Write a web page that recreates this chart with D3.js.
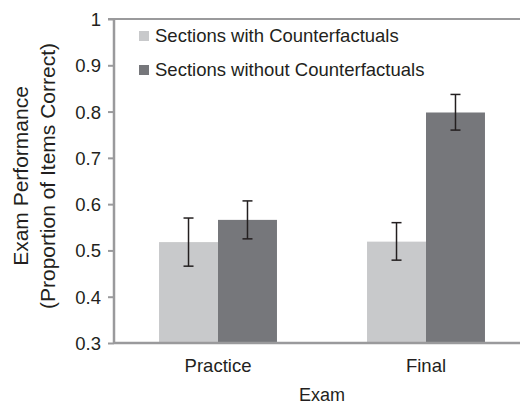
<!DOCTYPE html>
<html><head><meta charset="utf-8">
<script src="https://cdn.jsdelivr.net/npm/d3@7"></script>
<style>
html,body{margin:0;padding:0;background:#fff;}
svg{display:block;font-family:"Liberation Sans",Arial,Helvetica,sans-serif;}
</style></head>
<body><svg id="c" width="520" height="405"></svg>
<script>
const categories = ["Practice", "Final"];
const seriesNames = ["Sections with Counterfactuals", "Sections without Counterfactuals"];
const withCF = [0.518, 0.519];
const withCFLow = [0.466, 0.479];
const withCFHigh = [0.570, 0.560];
const withoutCF = [0.566, 0.798];
const withoutCFLow = [0.525, 0.760];
const withoutCFHigh = [0.607, 0.837];
const yTicks = [0.3, 0.4, 0.5, 0.6, 0.7, 0.8, 0.9, 1];
const colors = ["#c8c9cb", "#76777b"];

(function () {
const svg = d3.select("#c");
const mLeft = 114, mRight = 530, mTop = 19, mBottom = 343;
const textColor = "#231f20", axisColor = "#9a9a9c";

const x0 = d3.scaleBand().domain(categories).range([mLeft, mRight]).paddingInner(0.433).paddingOuter(0.2165);
const x1 = d3.scaleBand().domain(seriesNames).range([0, x0.bandwidth()]);
const y = d3.scaleLinear().domain([0.3, 1]).range([mBottom, mTop]);

const data = [];
categories.forEach((c, i) => {
  data.push({cat: c, s: seriesNames[0], v: withCF[i], lo: withCFLow[i], hi: withCFHigh[i], col: colors[0]});
  data.push({cat: c, s: seriesNames[1], v: withoutCF[i], lo: withoutCFLow[i], hi: withoutCFHigh[i], col: colors[1]});
});

// bars
svg.append("g").selectAll("rect").data(data).join("rect")
  .attr("x", d => x0(d.cat) + x1(d.s))
  .attr("width", x1.bandwidth())
  .attr("y", d => y(d.v))
  .attr("height", d => y(0.3) - y(d.v))
  .attr("fill", d => d.col);

// error bars
const eg = svg.append("g").attr("stroke", "#231f20").attr("stroke-width", 1.5);
data.forEach(d => {
  const cx = x0(d.cat) + x1(d.s) + x1.bandwidth() / 2;
  eg.append("line").attr("x1", cx).attr("x2", cx).attr("y1", y(d.hi)).attr("y2", y(d.lo));
  eg.append("line").attr("x1", cx - 5).attr("x2", cx + 5).attr("y1", y(d.hi)).attr("y2", y(d.hi));
  eg.append("line").attr("x1", cx - 5).attr("x2", cx + 5).attr("y1", y(d.lo)).attr("y2", y(d.lo));
});

// y axis
const yAxis = d3.axisLeft(y).tickValues(yTicks).tickFormat(d => d3.format("")(d)).tickSize(6).tickPadding(7);
const ya = svg.append("g").attr("transform", `translate(${mLeft},0)`).call(yAxis);
ya.select(".domain").remove();
ya.selectAll(".tick line").attr("stroke", axisColor).attr("stroke-width", 2);
ya.selectAll(".tick text").attr("fill", textColor).style("font-size", "18.5px").attr("dy", "0.35em");
svg.append("line").attr("x1", mLeft).attr("x2", mLeft).attr("y1", mTop).attr("y2", mBottom)
  .attr("stroke", axisColor).attr("stroke-width", 2.5);
// top border
svg.append("line").attr("x1", mLeft - 6).attr("x2", 520).attr("y1", mTop).attr("y2", mTop)
  .attr("stroke", axisColor).attr("stroke-width", 2);

// x axis
const xAxis = d3.axisBottom(x0).tickSize(0).tickPadding(16);
const xa = svg.append("g").attr("transform", `translate(0,${mBottom})`).call(xAxis);
xa.select(".domain").remove();
xa.selectAll(".tick text").attr("fill", textColor).style("font-size", "18.5px");
svg.append("line").attr("x1", mLeft).attr("x2", 520).attr("y1", mBottom).attr("y2", mBottom)
  .attr("stroke", axisColor).attr("stroke-width", 2.5);

// axis titles
svg.append("text").attr("x", (mLeft + mRight) / 2).attr("y", 401).attr("text-anchor", "middle")
  .attr("fill", textColor).style("font-size", "18px").text("Exam");
const yt = svg.append("text").attr("transform", "translate(28,176) rotate(-90)")
  .attr("text-anchor", "middle").attr("fill", textColor).style("font-size", "21px");
yt.append("tspan").attr("x", 0).attr("y", 0).text("Exam Performance");
yt.append("tspan").attr("x", 0).attr("y", 27).text("(Proportion of Items Correct)");

// legend
const lg = svg.append("g");
seriesNames.forEach((s, i) => {
  const yy = 36 + i * 34;
  lg.append("rect").attr("x", 139).attr("y", yy - 5).attr("width", 10).attr("height", 10).attr("fill", colors[i]);
  lg.append("text").attr("x", 155).attr("y", yy).attr("dy", "0.35em").attr("fill", textColor)
    .style("font-size", "18.5px").text(s);
});
})();
</script></body></html>
